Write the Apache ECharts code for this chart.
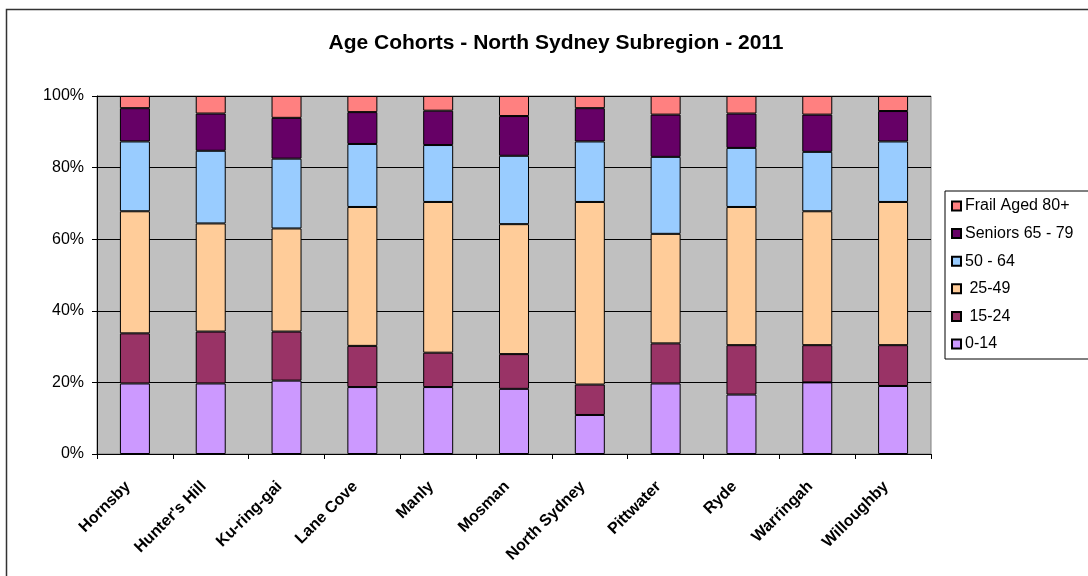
<!DOCTYPE html>
<html>
<head>
<meta charset="utf-8">
<script src="https://cdn.jsdelivr.net/npm/echarts@6/dist/echarts.min.js"></script>
<style>
html,body{margin:0;padding:0;background:#fff;}
#chart{width:1088px;height:576px;}
</style>
</head>
<body>
<div id="chart"></div>
<script>
var categories = ['Hornsby', "Hunter's Hill", 'Ku-ring-gai', 'Lane Cove', 'Manly', 'Mosman', 'North Sydney', 'Pittwater', 'Ryde', 'Warringah', 'Willoughby'];
var age0to14    = [19.7, 19.7, 20.5, 18.7, 18.7, 18.2, 10.9, 19.7, 16.6, 20.0, 19.0];
var age15to24   = [14.0, 14.5, 13.7, 11.5,  9.6,  9.7,  8.5, 11.2, 13.8, 10.4, 11.4];
var age25to49   = [34.1, 30.2, 28.8, 38.8, 42.1, 36.3, 51.0, 30.6, 38.6, 37.4, 40.0];
var age50to64   = [19.5, 20.3, 19.5, 17.6, 15.9, 19.1, 16.9, 21.5, 16.5, 16.6, 16.9];
var seniors     = [ 9.3, 10.4, 11.4,  8.9,  9.6, 11.1,  9.3, 11.8,  9.6, 10.4,  8.5];
var frailAged   = [ 3.4,  4.9,  6.1,  4.5,  4.1,  5.6,  3.4,  5.2,  4.9,  5.2,  4.2];
var yTickLabels = ['0%', '20%', '40%', '60%', '80%', '100%'];

var seriesDefs = [
  {name: '0-14', data: age0to14, color: '#CC99FF'},
  {name: ' 15-24', data: age15to24, color: '#993366'},
  {name: ' 25-49', data: age25to49, color: '#FFCC99'},
  {name: '50 - 64', data: age50to64, color: '#99CCFF'},
  {name: 'Seniors 65 - 79', data: seniors, color: '#660066'},
  {name: 'Frail Aged 80+', data: frailAged, color: '#FF8080'}
];

var chart = echarts.init(document.getElementById('chart'), null, {renderer: 'canvas'});
var font = 'Arial, "Liberation Sans", sans-serif';
chart.setOption({
  animation: false,
  backgroundColor: '#ffffff',
  textStyle: {fontFamily: font},
  title: {
    text: 'Age Cohorts - North Sydney Subregion - 2011',
    left: 551, top: 28, textAlign: 'center',
    textStyle: {fontFamily: font, fontWeight: 'bold', fontSize: 21, color: '#000'}
  },
  graphic: [{
    type: 'rect', z: -1,
    shape: {x: 6.5, y: 9.5, width: 1200, height: 700},
    style: {fill: 'none', stroke: '#333', lineWidth: 1.5}
  }],
  legend: {
    orient: 'vertical',
    left: 945, top: 191,
    data: seriesDefs.slice().reverse().map(function (s) { return s.name; }),
    itemWidth: 9, itemHeight: 9, itemGap: 11.6,
    icon: 'rect',
    padding: [7, 40, 7, 6],
    borderColor: '#000', borderWidth: 1,
    backgroundColor: '#fff',
    textStyle: {fontFamily: font, fontSize: 16, color: '#000', padding: [0, 0, 0, -1]}
  },
  grid: {
    left: 97, right: 157, top: 96, bottom: 122,
    show: true, backgroundColor: '#C0C0C0', borderColor: '#808080', borderWidth: 1
  },
  xAxis: {
    type: 'category',
    data: categories,
    axisLine: {lineStyle: {color: '#000', width: 1}},
    axisTick: {show: true, alignWithLabel: false, length: 5, lineStyle: {color: '#000'}},
    axisLabel: {rotate: 45, interval: 0, margin: 23, padding: [0, 10, 0, 0], fontFamily: font, fontWeight: 'bold', fontSize: 16, color: '#000'}
  },
  yAxis: {
    type: 'value', min: 0, max: 100, interval: 20,
    axisLine: {show: true, lineStyle: {color: '#000', width: 1}},
    axisTick: {show: true, length: 5, lineStyle: {color: '#000'}},
    axisLabel: {
      fontFamily: font, fontSize: 16, color: '#000', margin: 13,
      formatter: function (v) { return yTickLabels[Math.round(v / 20)]; }
    },
    splitLine: {show: true, lineStyle: {color: '#000', width: 1}}
  },
  series: seriesDefs.map(function (s) {
    return {
      name: s.name, type: 'bar', stack: 'total', barWidth: 30,
      data: s.data,
      itemStyle: {color: s.color, borderColor: '#000', borderWidth: 1}
    };
  })
});
</script>
</body>
</html>
